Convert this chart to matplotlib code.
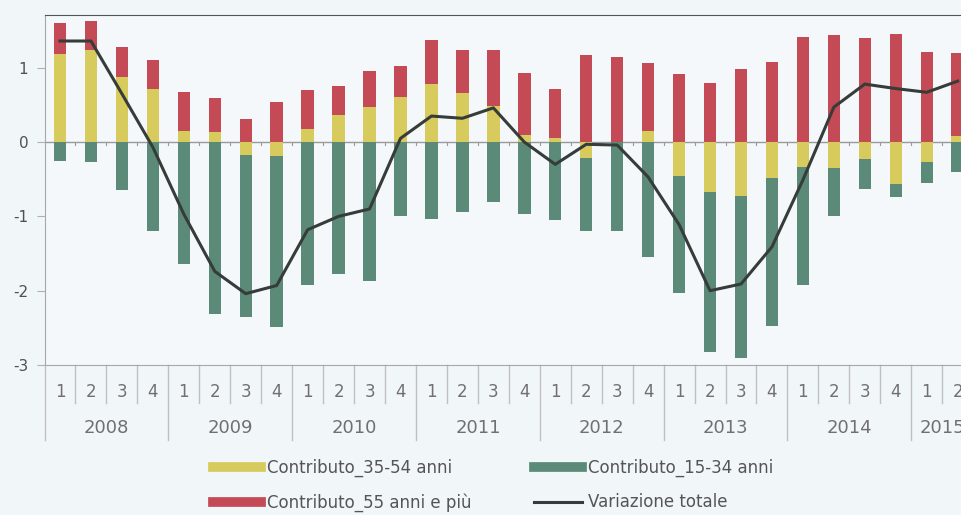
import numpy as np
import matplotlib
matplotlib.use('Agg')
import matplotlib.pyplot as plt
from matplotlib.lines import Line2D

# Dati trimestrali 2008 Q1 - 2015 Q2
anni = ['2008', '2009', '2010', '2011', '2012', '2013', '2014', '2015']
trimestri = ['1', '2', '3', '4'] * 7 + ['1', '2']

c_15_34 = [-0.26, -0.27, -0.64, -1.20, -1.64, -2.32, -2.19, -2.30,
           -1.92, -1.77, -1.87, -1.00, -1.04, -0.94, -0.80, -0.97,
           -1.05, -0.98, -1.20, -1.54, -1.58, -2.15, -2.19, -1.98,
           -1.59, -0.64, -0.40, -0.17, -0.28, -0.40]
c_35_54 = [1.19, 1.24, 0.87, 0.71, 0.15, 0.135, -0.17, -0.19,
           0.17, 0.36, 0.47, 0.60, 0.78, 0.66, 0.49, 0.09,
           0.05, -0.22, 0.0, 0.15, -0.45, -0.67, -0.72, -0.49,
           -0.33, -0.35, -0.23, -0.57, -0.27, 0.08]
c_55 = [0.41, 0.39, 0.41, 0.40, 0.53, 0.46, 0.31, 0.54,
        0.53, 0.39, 0.49, 0.43, 0.59, 0.58, 0.75, 0.84,
        0.67, 1.17, 1.14, 0.91, 0.91, 0.80, 0.99, 1.08,
        1.42, 1.44, 1.40, 1.45, 1.21, 1.12]
totale = [1.36, 1.36, 0.65, -0.07, -0.97, -1.74, -2.04, -1.93,
          -1.18, -1.00, -0.90, 0.05, 0.35, 0.32, 0.46, 0.00,
          -0.30, -0.03, -0.04, -0.47, -1.11, -2.00, -1.91, -1.41,
          -0.51, 0.47, 0.78, 0.72, 0.67, 0.82]

col_giallo = '#d6cb5c'
col_rosso = '#c44a55'
col_verde = '#5b8a79'
col_linea = '#363c39'
bg = '#f1f6f9'
grigio = '#9a9a9a'

plt.rcParams['font.family'] = ['DejaVu Sans']

x = np.arange(len(totale))
g = np.array(c_35_54)
r = np.array(c_55)
v = np.array(c_15_34)

fig = plt.figure(figsize=(9.62, 5.15), dpi=100, facecolor=bg)
ax = fig.add_axes([45 / 962, 150 / 515, 1 - 45 / 962, 350 / 515])
ax.set_facecolor('#f4f8fa')

w = 0.4
ax.bar(x, g, w, color=col_giallo, zorder=2)
ax.bar(x, r, w, bottom=np.maximum(g, 0), color=col_rosso, zorder=2)
ax.bar(x, v, w, bottom=np.minimum(g, 0), color=col_verde, zorder=2)
ax.axhline(0, color=grigio, lw=1, zorder=1)
ax.plot(x, totale, color=col_linea, lw=2.2, zorder=3)

ax.set_xlim(-0.485, 29.14)
ax.set_ylim(-3, 1.71)
ax.set_yticks([-3, -2, -1, 0, 1])
ax.set_yticklabels(['-3', '-2', '-1', '0', '1'])
ax.tick_params(axis='y', length=6, color='#b0b0b0', labelsize=11,
               labelcolor='#505050', pad=6)
ax.set_xticks([])

ax.spines['right'].set_visible(False)
ax.spines['top'].set_color('#555555')
ax.spines['bottom'].set_color('#a8a8a8')
ax.spines['left'].set_color('#a8a8a8')

# piccoli segni sull'asse dello zero
for k in range(1, len(x) + 1):
    ax.plot([k - 0.5, k - 0.5], [0, -0.035], color=grigio, lw=0.8, zorder=1)

# etichette categoria (trimestri e anni) sotto il grafico
tr = ax.get_xaxis_transform()
for i, t in enumerate(trimestri):
    ax.text(i, -0.077, t, transform=tr, ha='center', va='center',
            fontsize=12, color='#707070')
for k in range(1, len(x) + 1):
    if k % 4 == 0:
        continue
    ax.plot([k - 0.5, k - 0.5], [0, -0.109], transform=tr, color='#c0c0c0',
            lw=1, clip_on=False)
for j, a in enumerate(anni):
    xs = -0.5 + 4 * j
    ax.plot([xs, xs], [0, -0.214], transform=tr, color='#c0c0c0', lw=1,
            clip_on=False)
    xc = 1.5 + 4 * j if a != '2015' else 28.5
    ax.text(xc, -0.18, a, transform=tr, ha='center', va='center',
            fontsize=13, color='#707070')

handles = [Line2D([], [], color=col_giallo, lw=7),
           Line2D([], [], color=col_rosso, lw=7),
           Line2D([], [], color=col_verde, lw=7),
           Line2D([], [], color=col_linea, lw=2.2)]
labels = ['Contributo_35-54 anni', 'Contributo_55 anni e più',
          'Contributo_15-34 anni', 'Variazione totale']
fig.legend(handles, labels, ncol=2, loc='upper left',
           bbox_to_anchor=(213 / 962, 1 - 459 / 515), borderaxespad=0,
           borderpad=0, frameon=False, fontsize=12, handlelength=2.9,
           handletextpad=0.36, columnspacing=3.7, labelspacing=0.97,
           labelcolor='#555555')

fig.savefig('out.png', dpi=100, facecolor=bg)
